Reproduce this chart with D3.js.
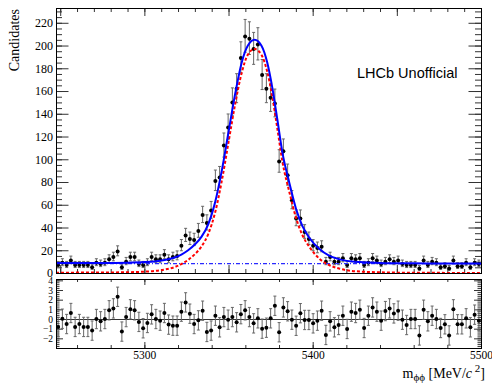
<!DOCTYPE html>
<html>
<head>
<meta charset="utf-8">
<script src="https://cdn.jsdelivr.net/npm/d3@7"></script>
<style>
  body { margin: 0; background: #fff; }
</style>
</head>
<body>
<div id="chart"></div>
<script>
// histogram binning (100 bins)
const massLo = 5247.5, massHi = 5500, nBins = 100;

// candidates per bin
const counts = [
  7, 9, 7, 11, 7, 7, 7, 7, 5, 9,
  8, 9, 12, 14, 19, 5, 10, 14, 14, 8,
  7, 9, 14, 12, 12, 16, 12, 14, 15, 24,
  33, 30, 29, 37, 51, 44, 55, 81, 84, 112,
  128, 150, 162, 189, 208, 206, 197, 201, 174, 162,
  154, 149, 98, 107, 86, 64, 48, 48, 36, 30,
  24, 22, 23, 10, 14, 10, 10, 13, 7, 13,
  12, 13, 7, 9, 13, 11, 8, 10, 12, 10,
  11, 8, 7, 7, 7, 4, 11, 7, 10, 9,
  5, 6, 4, 11, 6, 6, 9, 5, 9, 8
];

// pull per bin
const pulls = [
  -0.82, 0.03, -0.52, 0.62, -0.82, -0.52, -0.82, -0.82, -1.2, 0,
  -0.24, 0, 0.9, 1.1, 2.3, -1.3, 0.2, 1.0, 0.9, -0.3,
  -0.96, -0.41, 0.48, 0, -0.17, 0.62, -0.58, -0.69, -0.69, 0.76,
  1.72, 0.55, -0.52, -0.14, 0.86, -1.34, -1.2, 0.34, -0.86, 0.2,
  -0.07, 0.2, -0.34, 0.5, 0.9, 0.2, -0.45, 0.07, -1.0, -0.9,
  0.07, 1.37, -1.37, 1.2, 0.8, -0.07, -0.7, 0.6, -0.1, -0.1,
  -0.45, -0.17, 0.86, -1.65, -0.24, -0.86, -0.62, 0.34, -1.03, 0.76,
  0.62, 0.96, -0.93, 0.34, 1.2, 0.76, -0.17, 0.82, 1.1, 0.58,
  0.86, -0.07, -0.62, 0, 0, -1.7, 0.96, -0.24, 0.34, 0,
  -0.93, -0.55, -1.7, 1.0, -0.55, -0.55, 0.07, -0.86, 0.45, -0.17
];

// fit curves, sampled from the plot
const fitMass = [5247.5, 5270, 5290, 5300, 5306, 5312, 5318, 5322, 5326, 5330,
  5334, 5338, 5342, 5346, 5350, 5354, 5358, 5361.5, 5365.5, 5369.5,
  5373, 5376, 5379, 5382, 5386, 5390, 5394, 5398, 5404, 5410,
  5416, 5425, 5440, 5460, 5480, 5500];
const totalFit = [8.7, 8.8, 9.1, 9.6, 10.2, 11.4, 13.6, 16.2, 20, 25,
  32, 43, 62, 90, 124, 158, 186, 200, 205, 200,
  185, 163, 135, 106, 80, 57, 41, 31, 21, 15,
  12, 9.8, 8.9, 8.5, 8.4, 8.35];
const signalFit = [0.3, 0.4, 0.7, 1.2, 1.8, 3.0, 5.2, 7.8, 11.5, 16.5,
  23.5, 34.5, 53, 81, 115, 149, 177, 192, 197, 192,
  177, 155, 127, 98, 72, 49, 33, 23, 12.5, 6.8,
  3.8, 1.6, 0.6, 0.2, 0.1, 0.05];
const bkgMass = [5247.5, 5500];
const bkgFit = [8.3, 8.3];

const mainYTicks = [0, 20, 40, 60, 80, 100, 120, 140, 160, 180, 200, 220];
const pullYTicks = [-2, -1, 0, 1, 2, 3, 4];
const massTicks = [5300, 5400, 5500];

const width = 492, height = 384;
const left = 56, right = 481;
const mainTop = 8, mainBottom = 273;
const pullTop = 279, pullBottom = 348;
const serif = '"Liberation Serif", "Times New Roman", serif';

const svg = d3.create('svg')
  .attr('width', width)
  .attr('height', height)
  .style('font-family', serif);

const x = d3.scaleLinear().domain([massLo, massHi]).range([left, right]);
const y = d3.scaleLinear().domain([0, 233]).range([mainBottom, mainTop]);
const yp = d3.scaleLinear().domain([-3, 4.14]).range([pullBottom, pullTop]);

const binW = (massHi - massLo) / nBins;
const bins = counts.map((n, i) => ({
  m: massLo + binW * (i + 0.5),
  n: n,
  lo: n - Math.sqrt(n + 0.25) + 0.5,
  hi: n + Math.sqrt(n + 0.25) + 0.5,
  p: pulls[i]
}));

// tick helper: inward ticks, optional labels
function ticks(g, axis, values, size, fmt) {
  g.call(axis.tickValues(values).tickSize(size).tickSizeOuter(0).tickFormat(fmt || ''))
    .call(g => g.select('.domain').remove())
    .call(g => g.selectAll('line').attr('stroke', '#333'));
  g.attr('font-family', serif);
}
const minorRange = (a, b, s) => d3.range(a, b + 1e-9, s);

// ---------- main panel ----------
const xMajorMain = minorRange(5250, 5500, 50);
const xMinorMain = minorRange(5250, 5500, 10);
[[d3.axisTop, mainTop], [d3.axisBottom, mainBottom]].forEach(([ax, yy]) => {
  svg.append('g').attr('transform', `translate(0,${yy})`)
    .call(g => ticks(g, ax(x), xMinorMain, -4));
  svg.append('g').attr('transform', `translate(0,${yy})`)
    .call(g => ticks(g, ax(x), xMajorMain, -8));
});
const yMinorMain = minorRange(0, 230, 5);
svg.append('g').attr('transform', `translate(${left},0)`)
  .call(g => ticks(g, d3.axisLeft(y), yMinorMain, -6));
svg.append('g').attr('transform', `translate(${left},0)`)
  .call(g => ticks(g, d3.axisLeft(y).tickPadding(3), mainYTicks, -12.5, d3.format('d')))
  .call(g => g.selectAll('text').attr('font-size', 12).attr('fill', '#000'));
svg.append('g').attr('transform', `translate(${right},0)`)
  .call(g => ticks(g, d3.axisRight(y), yMinorMain, -6));
svg.append('g').attr('transform', `translate(${right},0)`)
  .call(g => ticks(g, d3.axisRight(y), mainYTicks, -12.5));

svg.append('defs').append('clipPath').attr('id', 'clipMain')
  .append('rect').attr('x', left).attr('y', mainTop).attr('width', right - left).attr('height', mainBottom - mainTop + 1);

const curve = (xs, ys) => d3.line()
  .x((d, i) => x(xs[i])).y(d => y(d))
  .curve(d3.curveMonotoneX)(ys);

const plot = svg.append('g').attr('clip-path', 'url(#clipMain)');

// data points with error bars
const pts = plot.append('g');
pts.selectAll('line.bar').data(bins).join('line')
  .attr('x1', d => x(d.m)).attr('x2', d => x(d.m))
  .attr('y1', d => y(d.lo)).attr('y2', d => y(d.hi))
  .attr('stroke', '#666').attr('stroke-width', 1);
pts.selectAll('path.cap').data(bins).join('path')
  .attr('d', d => `M${x(d.m) - 1.5},${y(d.lo)}h3M${x(d.m) - 1.5},${y(d.hi)}h3`)
  .attr('stroke', '#666').attr('stroke-width', 1);
pts.selectAll('circle').data(bins).join('circle')
  .attr('cx', d => x(d.m)).attr('cy', d => y(d.n)).attr('r', 2)
  .attr('fill', '#000');

// fit components
plot.append('path').attr('d', curve(bkgMass, bkgFit))
  .attr('fill', 'none').attr('stroke', '#2a2aff').attr('stroke-width', 1.2)
  .attr('stroke-dasharray', '4,2,1,2');
plot.append('path').attr('d', curve(fitMass, signalFit))
  .attr('fill', 'none').attr('stroke', '#ff0000').attr('stroke-width', 2)
  .attr('stroke-dasharray', '3,2');
plot.append('path').attr('d', curve(fitMass, totalFit))
  .attr('fill', 'none').attr('stroke', '#0000ff').attr('stroke-width', 2);

svg.append('rect')
  .attr('x', left + 0.5).attr('y', mainTop + 0.5)
  .attr('width', right - left).attr('height', mainBottom - mainTop)
  .attr('fill', 'none').attr('stroke', '#000');

svg.append('text')
  .attr('transform', `translate(19,9) rotate(-90)`)
  .attr('text-anchor', 'end')
  .attr('font-size', 14)
  .text('Candidates');

svg.append('text')
  .attr('x', 357).attr('y', 77.5)
  .attr('font-family', '"Liberation Sans", Arial, sans-serif')
  .attr('font-size', 14.5)
  .text('LHCb Unofficial');

// ---------- pull panel ----------
const xMinorPull = minorRange(5260, 5500, 20);
svg.append('g').attr('transform', `translate(0,${pullTop})`)
  .call(g => ticks(g, d3.axisTop(x), xMinorPull, -3));
svg.append('g').attr('transform', `translate(0,${pullTop})`)
  .call(g => ticks(g, d3.axisTop(x), massTicks, -6));
svg.append('g').attr('transform', `translate(0,${pullBottom})`)
  .call(g => ticks(g, d3.axisBottom(x), xMinorPull, -3));
svg.append('g').attr('transform', `translate(0,${pullBottom})`)
  .call(g => ticks(g, d3.axisBottom(x).tickPadding(3), massTicks, -6, d3.format('d')))
  .call(g => g.selectAll('text').attr('font-size', 11.5).attr('fill', '#000'));

const yMinorPull = minorRange(-3, 4, 0.2);
svg.append('g').attr('transform', `translate(${left},0)`)
  .call(g => ticks(g, d3.axisLeft(yp), yMinorPull, -3.5));
svg.append('g').attr('transform', `translate(${left},0)`)
  .call(g => ticks(g, d3.axisLeft(yp).tickPadding(3), pullYTicks, -7, d3.format('d')))
  .call(g => g.selectAll('text').attr('font-size', 9.5).attr('fill', '#000'));
svg.append('g').attr('transform', `translate(${right},0)`)
  .call(g => ticks(g, d3.axisRight(yp), yMinorPull, -3.5));
svg.append('g').attr('transform', `translate(${right},0)`)
  .call(g => ticks(g, d3.axisRight(yp), pullYTicks, -7));

svg.append('line')
  .attr('x1', left).attr('x2', right)
  .attr('y1', Math.round(yp(0)) + 0.5).attr('y2', Math.round(yp(0)) + 0.5)
  .attr('stroke', '#333');

const pp = svg.append('g');
pp.selectAll('line').data(bins).join('line')
  .attr('x1', d => x(d.m)).attr('x2', d => x(d.m))
  .attr('y1', d => yp(d.p - 1)).attr('y2', d => yp(d.p + 1))
  .attr('stroke', '#666');
pp.selectAll('path').data(bins).join('path')
  .attr('d', d => `M${x(d.m) - 1.5},${yp(d.p - 1)}h3M${x(d.m) - 1.5},${yp(d.p + 1)}h3`)
  .attr('stroke', '#666');
pp.selectAll('circle').data(bins).join('circle')
  .attr('cx', d => x(d.m)).attr('cy', d => yp(d.p)).attr('r', 2)
  .attr('fill', '#000');

svg.append('rect')
  .attr('x', left + 0.5).attr('y', pullTop + 0.5)
  .attr('width', right - left).attr('height', pullBottom - pullTop)
  .attr('fill', 'none').attr('stroke', '#000');

// x-axis title
const title = svg.append('text')
  .attr('x', 485).attr('y', 378)
  .attr('text-anchor', 'end')
  .attr('font-size', 14);
title.append('tspan').text('m');
title.append('tspan').attr('font-size', 11).attr('dy', 3).text('ϕϕ');
title.append('tspan').attr('dy', -3).text(' [MeV/');
title.append('tspan').attr('font-style', 'italic').text('c');
title.append('tspan').attr('font-size', 11).attr('dy', -6).text(' 2');
title.append('tspan').attr('dy', 6).text(']');

document.getElementById('chart').appendChild(svg.node());
</script>
</body>
</html>
